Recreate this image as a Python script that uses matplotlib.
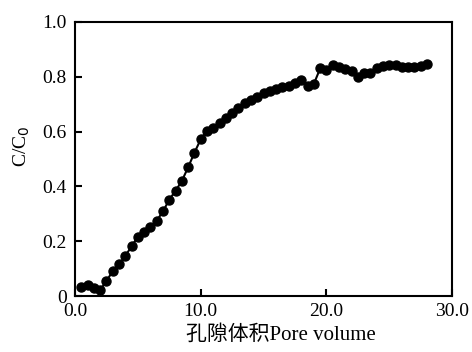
import matplotlib
matplotlib.use('Agg')
import matplotlib.pyplot as plt
from matplotlib.ticker import FixedLocator, FixedFormatter

pore_volume = [0.5, 1.0, 1.5, 2.0, 2.5, 3.0, 3.5, 4.0, 4.5, 5.0,
               5.5, 6.0, 6.5, 7.0, 7.5, 8.0, 8.5, 9.0, 9.5, 10.0,
               10.5, 11.0, 11.5, 12.0, 12.5, 13.0, 13.5, 14.0, 14.5, 15.0,
               15.5, 16.0, 16.5, 17.0, 17.5, 18.0, 18.5, 19.0, 19.5, 20.0,
               20.5, 21.0, 21.5, 22.0, 22.5, 23.0, 23.5, 24.0, 24.5, 25.0,
               25.5, 26.0, 26.5, 27.0, 27.5, 28.0]
c_ratio = [0.032, 0.040, 0.028, 0.022, 0.055, 0.091, 0.116, 0.146, 0.182, 0.216,
           0.235, 0.253, 0.275, 0.309, 0.352, 0.384, 0.420, 0.470, 0.523, 0.572,
           0.603, 0.612, 0.632, 0.648, 0.667, 0.685, 0.703, 0.715, 0.727, 0.742,
           0.746, 0.754, 0.762, 0.766, 0.776, 0.788, 0.766, 0.774, 0.830, 0.825,
           0.843, 0.835, 0.829, 0.822, 0.800, 0.813, 0.815, 0.831, 0.839, 0.843,
           0.843, 0.837, 0.837, 0.837, 0.839, 0.845]

x_ticks = [0, 10, 20, 30]
x_labels = ['0.0', '10.0', '20.0', '30.0']
y_ticks = [0, 0.2, 0.4, 0.6, 0.8, 1.0]
y_labels = ['0', '0.2', '0.4', '0.6', '0.8', '1.0']

plt.rcParams['font.family'] = ['Liberation Serif', 'Noto Sans CJK SC']

fig = plt.figure(figsize=(4.72, 3.52), dpi=100)
ax = fig.add_axes([0.159, 0.159, 0.799, 0.779])

ax.plot(pore_volume, c_ratio, color='black', lw=1.5, marker='o',
        markersize=6.5, markerfacecolor='black', markeredgecolor='black')

ax.set_xlim(0, 30)
ax.set_ylim(0, 1.0)
ax.xaxis.set_major_locator(FixedLocator(x_ticks))
ax.xaxis.set_major_formatter(FixedFormatter(x_labels))
ax.yaxis.set_major_locator(FixedLocator(y_ticks))
ax.yaxis.set_major_formatter(FixedFormatter(y_labels))
ax.tick_params(direction='in', length=5, width=1.5, labelsize=14,
               top=False, right=False)
ax.tick_params(axis='x', pad=5)
ax.tick_params(axis='y', pad=6)
for s in ax.spines.values():
    s.set_linewidth(1.5)

ax.set_xlabel('孔隙体积Pore volume', fontsize=15)
ax.xaxis.set_label_coords(0.546, -0.105)
ax.set_ylabel('C/C$_0$', fontsize=14)
ax.yaxis.set_label_coords(-0.115, 0.547)

fig.savefig('out.png', dpi=100)
